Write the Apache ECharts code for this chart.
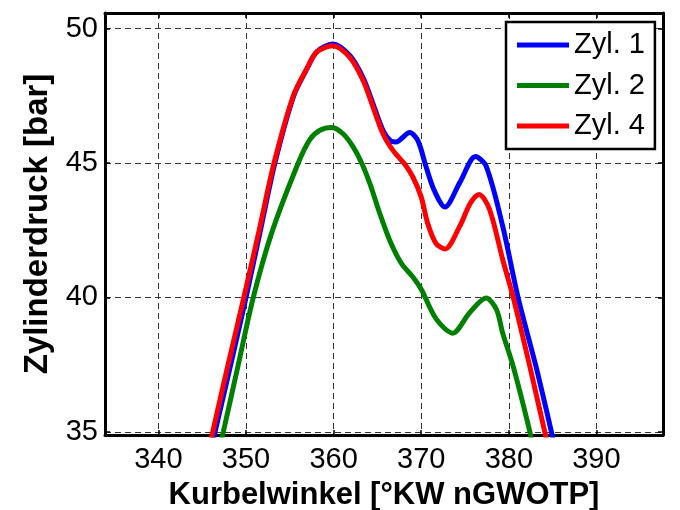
<!DOCTYPE html>
<html>
<head>
<meta charset="utf-8">
<script src="https://cdn.jsdelivr.net/npm/echarts@6/dist/echarts.min.js"></script>
<style>
html,body{margin:0;padding:0;background:#fff;}
#chart{width:680px;height:510px;}
</style>
</head>
<body>
<div id="chart"></div>
<script>
// Crank angle (x) and cylinder pressure (y)
var seriesNames = ['Zyl. 1', 'Zyl. 2', 'Zyl. 4'];

var angle1 = [345.9, 346.47, 348.25, 350.0, 351.65, 353.3, 355.45, 356.95, 358.1, 359.9, 361.89, 363.39, 364.52, 365.66, 366.5, 367.1, 368.68, 369.62, 370.57, 371.5, 372.7, 374.4, 376.2, 377.4, 379.3, 381.05, 383.1, 384.86, 385.4];
var zyl1   = [34.2, 35.0, 37.5, 40.0, 42.5, 45.0, 47.5, 48.5, 49.15, 49.43, 48.98, 48.15, 47.18, 46.2, 45.82, 45.78, 46.13, 45.83, 44.84, 43.97, 43.36, 44.27, 45.24, 44.89, 42.65, 40.0, 37.43, 35.0, 34.2];

var angle2 = [346.85, 347.41, 349.07, 350.83, 352.93, 355.96, 357.3, 358.44, 359.8, 361.13, 362.26, 363.2, 364.15, 365.28, 366.41, 367.74, 369.05, 370.0, 371.7, 373.6, 375.5, 377.4, 378.6, 379.3, 380.5, 382.4, 382.9];
var zyl2   = [34.2, 35.0, 37.43, 40.0, 42.4, 45.0, 45.88, 46.22, 46.32, 46.07, 45.58, 45.0, 44.22, 43.11, 42.12, 41.26, 40.76, 40.3, 39.2, 38.67, 39.42, 39.98, 39.54, 38.67, 37.43, 35.0, 34.2];

var angle4 = [345.65, 346.2, 347.95, 349.75, 351.5, 353.2, 355.4, 356.92, 358.06, 359.89, 361.89, 363.39, 364.52, 365.66, 366.79, 368.11, 369.05, 370.0, 370.75, 371.7, 372.7, 374.4, 375.6, 376.6, 377.8, 379.3, 380.5, 382.4, 384.1, 384.7];
var zyl4   = [34.2, 35.0, 37.5, 40.0, 42.5, 45.0, 47.5, 48.5, 49.12, 49.36, 48.91, 48.05, 47.06, 46.07, 45.46, 44.96, 44.47, 43.73, 42.74, 42.0, 41.8, 42.65, 43.5, 43.83, 43.27, 41.41, 40.0, 37.43, 35.0, 34.2];

var xTicks = [340, 350, 360, 370, 380, 390];
var yTicks = [35, 40, 45, 50];

function pairs(xs, ys) { return xs.map(function (x, i) { return [x, ys[i]]; }); }
function isTick(list) {
  return function (v) {
    for (var i = 0; i < list.length; i++) if (Math.abs(list[i] - v) < 1e-6) return String(list[i]);
    return '';
  };
}

var FONT = 'Liberation Sans';
var gridLine = { show: true, lineStyle: { color: '#333', width: 1, type: [6, 4] } };
var border = { show: true, onZero: false, lineStyle: { color: '#000', width: 3 } };
var inTicks = { show: true, inside: true, length: 5, lineStyle: { color: '#000', width: 1.5 } };

var chart = echarts.init(document.getElementById('chart'), null, { renderer: 'canvas' });
chart.setOption({
  backgroundColor: '#fff',
  animation: false,
  grid: { left: 105, right: 17, top: 13, bottom: 75, containLabel: false, outerBoundsMode: 'none' },
  legend: {
    data: seriesNames,
    orient: 'vertical',
    left: 506, top: 22,
    padding: [8, 10, 8, 11],
    itemGap: 10.5,
    itemWidth: 52, itemHeight: 5,
    icon: 'rect',
    backgroundColor: '#fff',
    borderColor: '#000', borderWidth: 2.5,
    textStyle: { fontFamily: FONT, fontSize: 29, color: '#000', lineHeight: 30, padding: [0, 0, 0, 0] }
  },
  xAxis: [{
    type: 'value', position: 'bottom', min: 333.9, max: 397.6,
    name: 'Kurbelwinkel [°KW nGWOTP]', nameLocation: 'middle', nameGap: 45,
    nameTextStyle: { fontFamily: FONT, fontSize: 31, fontWeight: 'bold', color: '#000' },
    axisLine: border, axisTick: inTicks, splitLine: gridLine,
    axisLabel: { fontFamily: FONT, fontSize: 29, color: '#000', margin: 10, formatter: isTick(xTicks), showMinLabel: true, showMaxLabel: true }
  }, {
    type: 'value', position: 'top', min: 333.9, max: 397.6,
    axisLine: border, axisTick: inTicks, splitLine: { show: false }, axisLabel: { show: false }
  }],
  yAxis: [{
    type: 'value', position: 'left', min: 34.88, max: 50.58, splitNumber: 3,
    name: 'Zylinderdruck [bar]', nameLocation: 'middle', nameGap: 51, nameRotate: 90,
    nameTextStyle: { fontFamily: FONT, fontSize: 33, fontWeight: 'bold', color: '#000' },
    axisLine: border, axisTick: inTicks, splitLine: gridLine,
    axisLabel: { fontFamily: FONT, fontSize: 29, color: '#000', margin: 7, formatter: isTick(yTicks) }
  }, {
    type: 'value', position: 'right', min: 34.88, max: 50.58, splitNumber: 3,
    axisLine: border, axisTick: inTicks, splitLine: { show: false }, axisLabel: { show: false }
  }],
  series: [
    { name: seriesNames[0], type: 'line', smooth: 0.3, showSymbol: false, symbol: 'none', data: pairs(angle1, zyl1), color: '#0000ff', lineStyle: { width: 5, color: '#0000ff' }, z: 3 },
    { name: seriesNames[1], type: 'line', smooth: 0.3, showSymbol: false, symbol: 'none', data: pairs(angle2, zyl2), color: '#008000', lineStyle: { width: 5, color: '#008000' }, z: 4 },
    { name: seriesNames[2], type: 'line', smooth: 0.3, showSymbol: false, symbol: 'none', data: pairs(angle4, zyl4), color: '#ff0000', lineStyle: { width: 5, color: '#ff0000' }, z: 5 }
  ]
});
</script>
</body>
</html>
